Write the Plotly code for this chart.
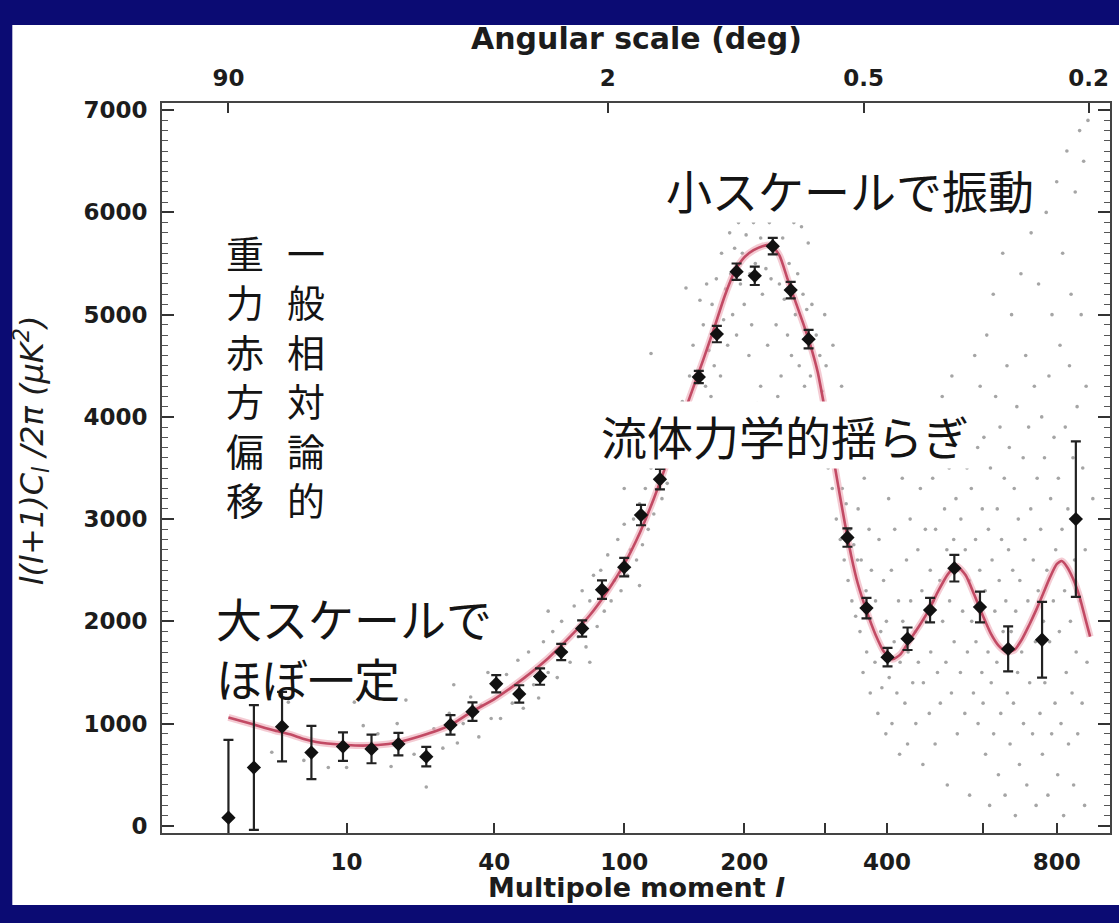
import numpy as np
import plotly.graph_objects as go

# ---- binned TT power spectrum (multipole, l(l+1)C_l/2pi in uK^2, 1-sigma) ----
binned_l = [2, 3, 4.5, 6.6, 9.6, 13.1, 17.2, 22.4, 27.8, 33.5, 40.6, 48.5, 56.6, 65.8,
            76, 86.7, 100, 111, 124.5, 156, 172.5, 192, 211.4, 232, 254, 277.5, 334,
            364.7, 401, 438, 482.6, 534.4, 593.5, 664, 757, 859]
binned_v = [80, 570, 970, 717, 775, 752, 800, 677, 987, 1117, 1390, 1290, 1460, 1700,
            1930, 2310, 2530, 3040, 3390, 4390, 4810, 5420, 5380, 5670, 5240, 4760, 2820,
            2130, 1650, 1830, 2110, 2520, 2140, 1730, 1820, 3000]
binned_err = [760, 610, 340, 260, 140, 140, 110, 95, 95, 90, 85, 85, 80, 80,
              80, 90, 90, 100, 100, 60, 80, 80, 90, 80, 80, 90, 90,
              100, 90, 110, 120, 130, 150, 220, 370, 760]

# ---- best-fit model curve ----
model_l = [2, 3, 4, 5, 6, 7, 8, 10, 12, 14, 17, 20, 24, 28, 33, 40, 45, 50, 60, 70,
           80, 90, 100, 110, 120, 130, 140, 150, 160, 170, 180, 190, 200, 210, 220, 230,
           240, 250, 260, 270, 280, 290, 300, 310, 320, 330, 340, 350, 365, 380, 395, 410,
           425, 440, 460, 480, 500, 520, 540, 560, 580, 600, 620, 640, 660, 680, 700, 720,
           740, 760, 780, 800, 815, 830, 850, 870, 890, 905]
model_v = [1060, 990, 935, 895, 850, 820, 805, 790, 785, 790, 815, 860, 920, 990, 1110,
           1240, 1340, 1440, 1640, 1850, 2060, 2300, 2560, 2860, 3200, 3560, 3920, 4250,
           4560, 4870, 5180, 5420, 5560, 5630, 5670, 5680, 5580, 5350, 5130, 4920, 4700,
           4440, 4080, 3700, 3320, 2960, 2640, 2380, 2100, 1870, 1700, 1630, 1680, 1800,
           1950, 2110, 2300, 2460, 2540, 2450, 2260, 2060, 1880, 1760, 1700, 1720, 1820,
           1960, 2110, 2270, 2430, 2560, 2590, 2540, 2420, 2250, 2020, 1850]

# ---- unbinned multipoles (grey dots), by multipole range ----
low_l = [3.9, 4.9, 6, 8.1, 10, 10.9, 12, 14, 16, 17, 18.5, 20, 22.4, 24, 26, 27.5, 28.6,
         29.5, 31, 33, 35.3, 36, 38, 39]
low_v = [720, 1210, 640, 570, 570, 1210, 980, 900, 580, 1000, 1230, 700, 380, 950, 760,
         1100, 1380, 810, 1000, 1260, 870, 1180, 1500, 1050]

rise_l = [42, 44, 46, 48, 50, 52, 54, 56, 58, 60, 62, 64, 66, 68, 70, 72, 74, 76, 78, 80,
          82, 84, 86, 88, 90, 92, 94, 96, 98, 100, 102, 104, 106, 108, 110, 112, 114, 116,
          118, 120, 122, 124, 126, 128, 130, 133, 136, 139, 142, 145, 148, 118, 145, 100,
          80, 60, 110]
rise_v = [1050, 1480, 1200, 1620, 1150, 1700, 1380, 1250, 1800, 1500, 1900, 1450, 2000,
          1700, 1600, 2150, 1850, 2300, 1750, 2200, 2450, 1950, 2500, 2100, 2650, 2200,
          2400, 2800, 2300, 2950, 2450, 2700, 3000, 2600, 3150, 2750, 3300, 2900, 3500,
          3050, 3400, 3700, 3200, 3850, 3350, 3700, 4000, 3600, 4150, 3900, 4400, 4620,
          5260, 3300, 1600, 2100, 2350]

peak_l = [151, 153, 155, 157, 158, 160, 162, 163, 165, 167, 168, 170, 172, 174, 176, 177,
          179, 181, 183, 185, 186, 188, 190, 192, 194, 196, 198, 200, 202, 204, 206, 208,
          210, 212, 214, 216, 218, 220, 222, 224, 226, 228, 230, 232, 234, 236, 238, 240,
          242, 244, 246, 248, 250, 252, 255, 258, 260, 263, 265, 268, 270, 272, 275, 277,
          280, 282, 285, 288, 290, 293, 296, 299, 302, 305, 308, 311, 314, 317, 320, 323,
          326, 329, 332, 335, 338, 341, 344, 347, 350, 205, 218, 228, 238, 248, 256, 175,
          185, 300, 312, 325, 335]
peak_v = [4700, 3900, 4450, 5140, 4100, 4900, 4300, 5300, 4650, 4200, 5100, 4500, 5350,
          4800, 4400, 5600, 4950, 5250, 4700, 5800, 5400, 5000, 5650, 4800, 5900, 5300,
          5600, 5100, 5780, 6050, 5400, 4900, 5900, 5500, 4130, 6100, 5750, 5200, 6000,
          5450, 4700, 5900, 5350, 6200, 5600, 4900, 5950, 5300, 4400, 5750, 5150, 6000,
          4800, 5500, 4600, 5900, 5000, 5400, 4500, 5860, 5200, 4300, 5050, 5700, 4400,
          5100, 4000, 4800, 3900, 4600, 4250, 3700, 4500, 3500, 4100, 3300, 3900, 3000,
          3600, 2800, 3300, 2600, 3150, 2400, 2900, 2200, 2750, 2050, 2600, 4600, 4300,
          3900, 4200, 3800, 4100, 3800, 4100, 5000, 4700, 4300, 3800]

second_l = [351, 354, 356, 359, 361, 364, 365, 369, 371, 373, 376, 379, 380, 384, 386,
            389, 391, 394, 398, 399, 403, 404, 408, 409, 413, 414, 418, 421, 423, 424,
            428, 429, 433, 436, 438, 439, 443, 444, 448, 451, 453, 454, 458, 459, 463,
            466, 468, 469, 473, 474, 478, 481, 483, 484, 488, 489, 493, 494, 498, 501,
            503, 504, 508, 509, 513, 516, 518, 519, 523, 524, 528, 529, 533, 534, 538,
            541, 543, 544, 548, 549, 553, 556, 558, 559, 563, 564, 568, 569, 573, 574,
            578, 581, 583, 584, 588, 589, 593, 594, 598, 599]
second_v = [3100, 1900, 2600, 1500, 3400, 2300, 1700, 2900, 1300, 2500, 3600, 1600, 2200,
            1100, 2800, 1900, 1350, 2400, 900, 2000, 3200, 1450, 2500, 1000, 1800, 2900,
            1300, 2200, 700, 1600, 3400, 2000, 1200, 2600, 800, 1700, 3000, 2200, 1400,
            3700, 1900, 1000, 2700, 1600, 3300, 2300, 600, 1400, 2900, 2000, 3900, 1100,
            2500, 1700, 3400, 2200, 800, 2900, 1500, 3600, 2400, 1200, 4200, 2000, 3100,
            1600, 2700, 400, 3500, 2200, 1300, 4400, 2800, 1800, 3200, 900, 2500, 3900,
            1500, 3000, 2100, 4100, 1100, 2700, 3500, 1700, 2400, 300, 3300, 2000, 1300,
            4600, 2800, 1800, 3700, 1000, 2500, 4300, 1500, 3100]

tail_l = [601, 603, 606, 607, 610, 613, 614, 617, 619, 621, 623, 626, 627, 630, 632, 635,
          636, 639, 641, 643, 645, 647, 650, 651, 654, 656, 658, 661, 662, 665, 667, 669,
          672, 673, 676, 678, 680, 683, 684, 687, 689, 691, 694, 695, 698, 700, 704, 705,
          709, 711, 714, 717, 719, 722, 725, 726, 730, 732, 735, 738, 740, 743, 746, 747,
          751, 753, 756, 758, 761, 764, 765, 769, 771, 774, 777, 779, 782, 785, 786, 790,
          792, 795, 797, 800, 803, 805, 808, 810, 813, 816, 818, 821, 824, 826, 829, 831,
          834, 836, 839, 842, 844, 847, 850, 852, 855, 857, 860, 863, 865, 868, 871, 873,
          876, 879, 881, 884, 887, 889, 892, 895, 898, 914]
tail_v = [1200, 3800, 2300, 700, 4800, 1700, 2900, 200, 3500, 1400, 2600, 5200, 900, 2100,
          4200, 1600, 3100, 500, 2400, 3900, 1100, 2800, 5600, 1900, 3400, 300, 2200, 4500,
          1300, 2700, 3700, 800, 1900, 5000, 2500, 1200, 3300, 100, 2100, 4100, 1500, 3000,
          600, 2400, 5400, 1700, 3600, 1000, 2800, 4600, 400, 2200, 3900, 1400, 3100, 5800,
          900, 2600, 4300, 1800, 200, 3400, 2300, 5300, 1100, 2900, 4000, 700, 2000, 3600,
          1400, 6000, 2500, 300, 4400, 1800, 3200, 900, 5000, 2200, 3800, 1200, 2700, 6300,
          500, 3400, 1900, 4700, 1000, 2900, 5600, 100, 2300, 3900, 1500, 6600, 3100, 800,
          4500, 2000, 5200, 1300, 3600, 400, 2600, 6200, 1700, 4100, 900, 3000, 6800, 2200,
          5000, 1200, 3500, 6500, 200, 2700, 4300, 1600, 6900, 3200]

# ---- axis ticks ----
l_ticks = [10, 40, 100, 200, 400, 800]
l_ticktext = ["10", "40", "100", "200", "400", "800"]
l_minor_ticks = [300, 600]
angle_ticks = [90, 2, 0.5, 0.2]          # degrees, l ~ 180/theta
angle_ticktext = ["90", "2", "0.5", "0.2"]
y_ticks = [0, 1000, 2000, 3000, 4000, 5000, 6000, 7000]


def fx(l):
    """Multipole axis is uniform in l**0.25."""
    return np.asarray(l, dtype=float) ** 0.25


W, H = 1119, 923
ML, MR, MT, MB = 162, 7, 103, 90
PW, PH = W - ML - MR, H - MT - MB


def px(x):
    return (x - ML) / PW


def py(y):
    return (H - MB - y) / PH


NAVY = "#0b0b73"
INK = "#1c1c1c"
TICK_FONT = dict(family="DejaVu Sans", size=23, color=INK, weight="bold")
JP = "Noto Sans CJK JP"

dots_l = low_l + rise_l + peak_l + second_l + tail_l
dots_v = low_v + rise_v + peak_v + second_v + tail_v

fig = go.Figure()

fig.add_trace(go.Scatter(
    x=fx(dots_l), y=dots_v, mode="markers",
    marker=dict(size=3.6, color="rgba(135,135,135,0.75)"),
    hoverinfo="skip", showlegend=False))

# model curve with soft halo
fig.add_trace(go.Scatter(
    x=fx(model_l), y=model_v, mode="lines",
    line=dict(color="rgba(235,160,175,0.55)", width=7, shape="spline", smoothing=0.6),
    hoverinfo="skip", showlegend=False))
fig.add_trace(go.Scatter(
    x=fx(model_l), y=model_v, mode="lines",
    line=dict(color="#c24a64", width=2.6, shape="spline", smoothing=0.6),
    showlegend=False))

fig.add_trace(go.Scatter(
    x=fx(binned_l), y=binned_v, mode="markers",
    marker=dict(symbol="diamond", size=11, color="#111111"),
    error_y=dict(type="data", array=binned_err, color="#222222", thickness=2.2, width=5),
    showlegend=False))

# invisible trace carrying the angular-scale axis
fig.add_trace(go.Scatter(x=fx([2, 900]), y=[None, None], xaxis="x2", yaxis="y",
                         mode="markers", showlegend=False, hoverinfo="skip"))

xr = [0.858, 5.584]
fig.update_layout(
    width=W, height=H,
    margin=dict(l=ML, r=MR, t=MT, b=MB),
    paper_bgcolor=NAVY, plot_bgcolor="white",
    xaxis=dict(range=xr, tickmode="array", tickvals=fx(l_ticks), ticktext=l_ticktext,
               ticks="inside", ticklen=10, tickwidth=1.5, tickcolor="#333",
               minor=dict(tickmode="array", tickvals=fx(l_minor_ticks), ticks="inside",
                          ticklen=10, tickwidth=1.5, tickcolor="#333"),
               showline=True, linecolor="#444", linewidth=2, showgrid=False,
               zeroline=False, tickfont=TICK_FONT, ticklabelstandoff=7),
    xaxis2=dict(range=xr, overlaying="x", side="top", anchor="y", tickmode="array",
                tickvals=fx([180.0 / a for a in angle_ticks]), ticktext=angle_ticktext,
                ticks="inside", ticklen=10, tickwidth=1.5, tickcolor="#333",
                showline=True, linecolor="#444", linewidth=2, showgrid=False,
                zeroline=False, tickfont=TICK_FONT, ticklabelstandoff=6),
    yaxis=dict(range=[-70, 7070], tickmode="array", tickvals=y_ticks,
               ticks="inside", ticklen=12, tickwidth=1.5, tickcolor="#333",
               minor=dict(ticks="inside", dtick=100, ticklen=6, tickcolor="#555", tickwidth=1),
               showline=True, linecolor="#444", linewidth=2, mirror="ticks",
               showgrid=False, zeroline=False, tickfont=TICK_FONT, ticklabelstandoff=8),
    shapes=[dict(type="rect", xref="paper", yref="paper", layer="below",
                 x0=px(12), x1=px(1125), y0=py(905), y1=py(25),
                 fillcolor="white", line=dict(width=0))],
)

# axis titles
fig.add_annotation(text="Angular scale (deg)", xref="paper", yref="paper",
                   x=0.5, y=py(38), xanchor="center", yanchor="middle", showarrow=False,
                   font=dict(family="DejaVu Sans", size=30, color=INK, weight="bold"))
fig.add_annotation(text="Multipole moment <i>l</i>", xref="paper", yref="paper",
                   x=0.5, y=py(887), xanchor="center", yanchor="middle", showarrow=False,
                   font=dict(family="DejaVu Sans", size=27, color=INK, weight="bold"))
fig.add_annotation(text="<i>l(l+1)C<sub>l</sub> /2π (μK<sup>2</sup>)</i>",
                   xref="paper", yref="paper", x=px(31), y=py(450),
                   xanchor="center", yanchor="middle", textangle=-90, showarrow=False,
                   font=dict(family="DejaVu Sans", size=32, color=INK))

# Japanese captions (white boxes hide what lies beneath)
JFONT = dict(family=JP, size=46, color="#141414")
fig.add_annotation(text="小スケールで振動", xref="paper", yref="paper",
                   x=px(851), y=py(189), xanchor="center", yanchor="middle",
                   showarrow=False, font=JFONT, bgcolor="white", borderpad=0)
fig.add_annotation(text="流体力学的揺らぎ", xref="paper", yref="paper",
                   x=px(786), y=py(435), xanchor="center", yanchor="middle",
                   showarrow=False, font=JFONT, bgcolor="white", borderpad=0)
fig.add_annotation(text="大スケールで<br>ほぼ一定", xref="paper", yref="paper",
                   x=px(214), y=py(582), xanchor="left", yanchor="top", align="left",
                   showarrow=False, font=JFONT)

# vertical columns, read right to left
columns = [("一般相対論的", 306), ("重力赤方偏移", 245)]
for chars, cx in columns:
    fig.add_annotation(text="<br>".join(chars), xref="paper", yref="paper",
                       x=px(cx), y=py(222), xanchor="center", yanchor="top",
                       showarrow=False, align="center",
                       font=dict(family=JP, size=38, color="#141414"))

fig.write_html("out.html")
